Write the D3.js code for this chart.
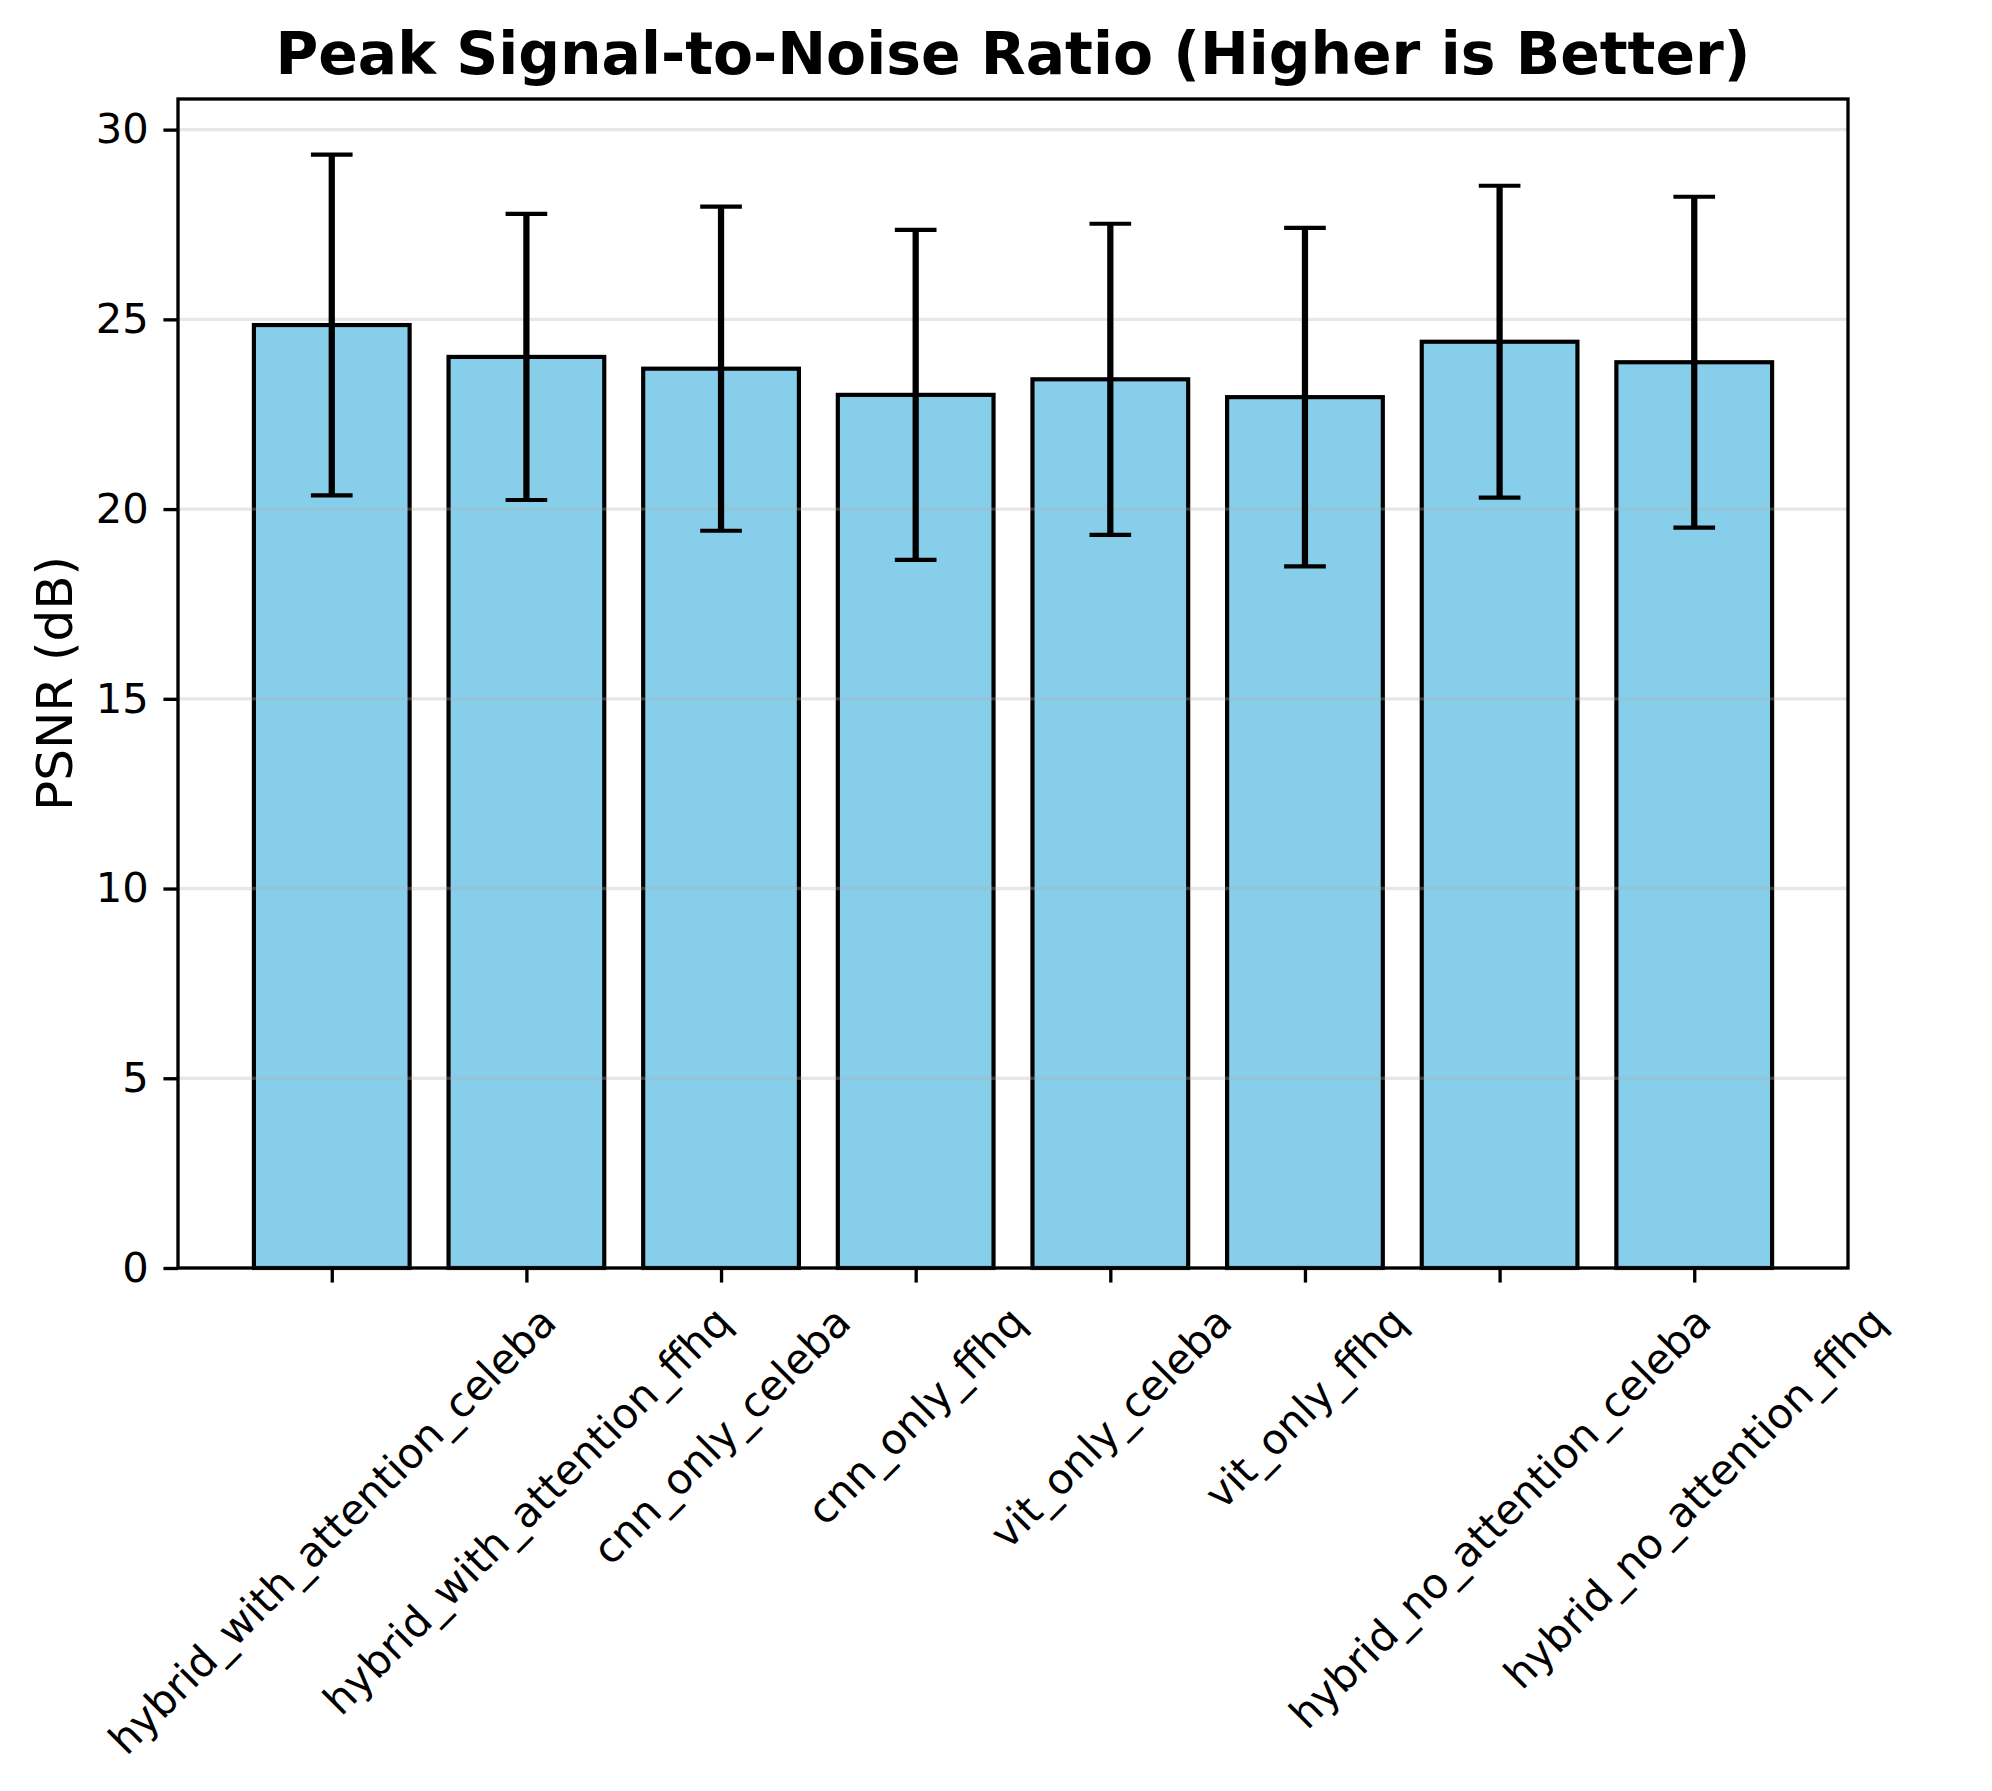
<!DOCTYPE html>
<html>
<head>
<meta charset="utf-8">
<script src="https://cdn.jsdelivr.net/npm/d3@7"></script>
<style>
  body { margin: 0; background: #fff; }
  svg { display: block; font-family: "DejaVu Sans", sans-serif; }
</style>
</head>
<body>
<div id="chart"></div>
<script>
// data
var models = [
  "hybrid_with_attention_celeba", "hybrid_with_attention_ffhq",
  "cnn_only_celeba", "cnn_only_ffhq",
  "vit_only_celeba", "vit_only_ffhq",
  "hybrid_no_attention_celeba", "hybrid_no_attention_ffhq"
];
var psnrMean = [24.85, 24.01, 23.70, 23.01, 23.42, 22.95, 24.41, 23.87];
var psnrStd = [4.49, 3.77, 4.27, 4.35, 4.10, 4.46, 4.11, 4.36];
var yTicks = [0, 5, 10, 15, 20, 25, 30];

var W = 1992, H = 1791;
// plot area (note: "top" is a reserved window property, so use other names)
var axLeft = 178, axRight = 1848, axTop = 99, axBottom = 1268;
var pt = 300 / 72;

var svg = d3.select( "#chart" ).append( "svg" )
  .attr( "width", W ).attr( "height", H );

var n = models.length;
var xMargin = ( n - 1 + 0.8 ) * 0.05;
var x = d3.scaleLinear()
  .domain( [ -0.4 - xMargin, n - 1 + 0.4 + xMargin ] )
  .range( [ axLeft, axRight ] );
var yMax = d3.max( psnrMean, function( d, i ) { return d + psnrStd[ i ]; } ) * 1.05;
var y = d3.scaleLinear().domain( [ 0, yMax ] ).range( [ axBottom, axTop ] );

var barW = x( 0.8 ) - x( 0 );

// bars
svg.append( "g" ).selectAll( "rect" )
  .data( psnrMean )
  .enter().append( "rect" )
  .attr( "x", function( d, i ) { return x( i ) - barW / 2; } )
  .attr( "y", function( d ) { return y( d ); } )
  .attr( "width", barW )
  .attr( "height", function( d ) { return y( 0 ) - y( d ); } )
  .attr( "fill", "#87ceeb" )
  .attr( "stroke", "#000" )
  .attr( "stroke-width", 1 * pt );

// grid (drawn above the bars like matplotlib does)
svg.append( "g" ).selectAll( "line" )
  .data( yTicks )
  .enter().append( "line" )
  .attr( "x1", axLeft ).attr( "x2", axRight )
  .attr( "y1", function( d ) { return y( d ); } )
  .attr( "y2", function( d ) { return y( d ); } )
  .attr( "stroke", "#b0b0b0" )
  .attr( "stroke-opacity", 0.3 )
  .attr( "stroke-width", 0.8 * pt );

// error bars
var capHalf = 5 * pt;
var err = svg.append( "g" ).selectAll( "g" )
  .data( psnrMean )
  .enter().append( "g" );
err.append( "line" )
  .attr( "x1", function( d, i ) { return x( i ); } )
  .attr( "x2", function( d, i ) { return x( i ); } )
  .attr( "y1", function( d, i ) { return y( d - psnrStd[ i ] ); } )
  .attr( "y2", function( d, i ) { return y( d + psnrStd[ i ] ); } )
  .attr( "stroke", "#000" )
  .attr( "stroke-width", 1.5 * pt );
[ -1, 1 ].forEach( function( s ) {
  err.append( "line" )
    .attr( "x1", function( d, i ) { return x( i ) - capHalf; } )
    .attr( "x2", function( d, i ) { return x( i ) + capHalf; } )
    .attr( "y1", function( d, i ) { return y( d + s * psnrStd[ i ] ); } )
    .attr( "y2", function( d, i ) { return y( d + s * psnrStd[ i ] ); } )
    .attr( "stroke", "#000" )
    .attr( "stroke-width", 1 * pt );
} );

// axes
var tickLen = 3.5 * pt, tickPad = 3.5 * pt, fs = 10 * pt;

var yAxis = svg.append( "g" )
  .attr( "transform", "translate(" + axLeft + ",0)" )
  .call( d3.axisLeft( y ).tickValues( yTicks ).tickFormat( d3.format( "d" ) )
    .tickSize( tickLen ).tickPadding( tickPad ) );
yAxis.select( ".domain" ).remove();
yAxis.selectAll( ".tick line" ).attr( "stroke-width", 0.8 * pt );
yAxis.selectAll( ".tick text" )
  .attr( "font-size", fs ).attr( "fill", "#000" )
  .attr( "font-family", "DejaVu Sans" );

var xAxis = svg.append( "g" )
  .attr( "transform", "translate(0," + axBottom + ")" )
  .call( d3.axisBottom( x ).tickValues( d3.range( n ) )
    .tickFormat( function( i ) { return models[ i ]; } )
    .tickSize( tickLen ).tickPadding( tickPad ) );
xAxis.select( ".domain" ).remove();
xAxis.selectAll( ".tick line" ).attr( "stroke-width", 0.8 * pt );
xAxis.selectAll( ".tick text" )
  .attr( "font-size", fs ).attr( "fill", "#000" )
  .attr( "font-family", "DejaVu Sans" )
  .attr( "y", null ).attr( "dy", null )
  .attr( "text-anchor", "middle" )
  .attr( "dominant-baseline", "central" )
  .attr( "transform", function() {
    var L = this.getComputedTextLength();
    var h = fs * 1.17;
    var off = tickLen + tickPad + ( L + h ) / ( 2 * Math.SQRT2 );
    return "translate(0," + off + ") rotate(-45)";
  } );

// frame
svg.append( "rect" )
  .attr( "x", axLeft ).attr( "y", axTop )
  .attr( "width", axRight - axLeft ).attr( "height", axBottom - axTop )
  .attr( "fill", "none" )
  .attr( "stroke", "#000" )
  .attr( "stroke-width", 0.8 * pt );

// labels
svg.append( "text" )
  .attr( "transform", "translate(72," + ( axTop + axBottom ) / 2 + ") rotate(-90)" )
  .attr( "text-anchor", "middle" )
  .attr( "font-size", 12 * pt )
  .text( "PSNR (dB)" );

svg.append( "text" )
  .attr( "x", ( axLeft + axRight ) / 2 ).attr( "y", 74 )
  .attr( "text-anchor", "middle" )
  .attr( "font-size", 14 * pt )
  .attr( "font-weight", "bold" )
  .text( "Peak Signal-to-Noise Ratio (Higher is Better)" );
</script>
</body>
</html>
